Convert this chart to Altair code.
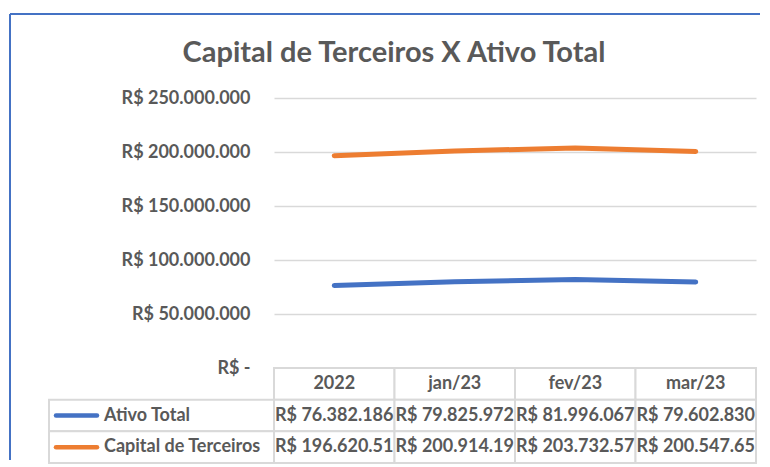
import altair as alt
import pandas as pd

# ---- data ----
meses = ["2022", "jan/23", "fev/23", "mar/23"]
series = ["Ativo Total", "Capital de Terceiros"]
ativo_total = [76382186, 79825972, 81996067, 79602830]
capital_terceiros = [196620510, 200914190, 203732570, 200547650]
y_ticks = [0, 50000000, 100000000, 150000000, 200000000, 250000000]
cores = ["#4472C4", "#ED7D31"]
titulo = "Capital de Terceiros X Ativo Total"

FONT = "Lato"
GRAY = "#595959"
GRID = "#d9d9d9"
FS = 18


def brl(v):
    s = f"{v:,.0f}".replace(",", ".")
    return ("R$ " + s)[:13]  # the data table truncates long cells


rows = []
for s, vals in zip(series, [ativo_total, capital_terceiros]):
    for m, v in zip(meses, vals):
        rows.append({"Mês": m, "Série": s, "Valor": v, "Texto": brl(v)})
df = pd.DataFrame(rows)

color_scale = alt.Scale(domain=series, range=cores)

# ---- top: line chart ----
x_top = alt.X("Mês:N", sort=meses, axis=None,
              scale=alt.Scale(type="point", padding=0.5))
y_top = alt.Y(
    "Valor:Q",
    scale=alt.Scale(domain=[0, 250000000], nice=False),
    axis=alt.Axis(
        values=y_ticks, title=None, domain=False, ticks=False,
        labelPadding=24, gridColor=GRID, gridWidth=1.3,
        labelFont=FONT, labelFontSize=FS, labelFontWeight="bold", labelColor=GRAY,
        labelExpr="datum.value == 0 ? 'R$ -\u00a0\u00a0\u00a0' : 'R$ ' + replace(format(datum.value, ',d'), regexp(',', 'g'), '.')",
    ),
)

lines = alt.Chart(df).mark_line(strokeWidth=5, strokeCap="round", strokeJoin="round").encode(
    x=x_top, y=y_top,
    color=alt.Color("Série:N", scale=color_scale, legend=None),
)

single = alt.Data(values=[{"t": titulo}])
frame_top = alt.Chart(single).mark_rule(color="#4472C4", strokeWidth=2).encode(
    x=alt.value(-264), x2=alt.value(486), y=alt.value(-84)
)
frame_left = alt.Chart(single).mark_rule(color="#4472C4", strokeWidth=2).encode(
    x=alt.value(-264), y=alt.value(-84), y2=alt.value(362)
)
title_mark = alt.Chart(single).mark_text(
    font=FONT, fontSize=29, fontWeight="bold", color=GRAY, align="center", baseline="alphabetic"
).encode(x=alt.value(120), y=alt.value(-36), text="t:N")

top = alt.layer(lines, frame_top, frame_left, title_mark).properties(width=482, height=270)

# ---- bottom: data table ----
table_rows = ["header"] + series
hdr = pd.DataFrame({"Mês": meses, "Linha": ["header"] * len(meses), "Texto": meses})
cells = df[["Mês", "Série", "Texto"]].rename(columns={"Série": "Linha"})
tab = pd.concat([hdr, cells], ignore_index=True)

x_tab = alt.X("Mês:N", sort=meses, axis=None,
              scale=alt.Scale(paddingInner=0, paddingOuter=0))
y_tab = alt.Y("Linha:N", sort=table_rows, axis=None,
              scale=alt.Scale(paddingInner=0, paddingOuter=0))

cell_rects = alt.Chart(tab).mark_rect(fill="white", stroke=GRID, strokeWidth=2).encode(x=x_tab, y=y_tab)
cell_texts = alt.Chart(tab).mark_text(font=FONT, fontSize=FS, fontWeight="bold", color=GRAY).encode(
    x=x_tab, y=y_tab, text="Texto:N"
)

leg = pd.DataFrame({"Linha": series})
leg_rects = alt.Chart(leg).mark_rect(fill="white", stroke=GRID, strokeWidth=2).encode(
    x=alt.value(-225), x2=alt.value(0), y=y_tab
)
leg_swatch = alt.Chart(leg).mark_rule(strokeWidth=4.5, strokeCap="round").encode(
    x=alt.value(-218), x2=alt.value(-177), y=y_tab,
    color=alt.Color("Linha:N", scale=color_scale, legend=None),
)
leg_text = alt.Chart(leg).mark_text(align="left", font=FONT, fontSize=FS, fontWeight="bold", color=GRAY).encode(
    x=alt.value(-170), y=y_tab, text="Linha:N"
)

table = alt.layer(cell_rects, cell_texts, leg_rects, leg_swatch, leg_text).properties(width=482, height=95)

chart = alt.vconcat(top, table, spacing=0, bounds="flush").properties(
    padding={"left": 1, "top": 5, "right": 0, "bottom": 0},
    background="white",
).configure_view(strokeWidth=0)

chart.save("out.html", embed_options={"renderer": "svg", "actions": False})
